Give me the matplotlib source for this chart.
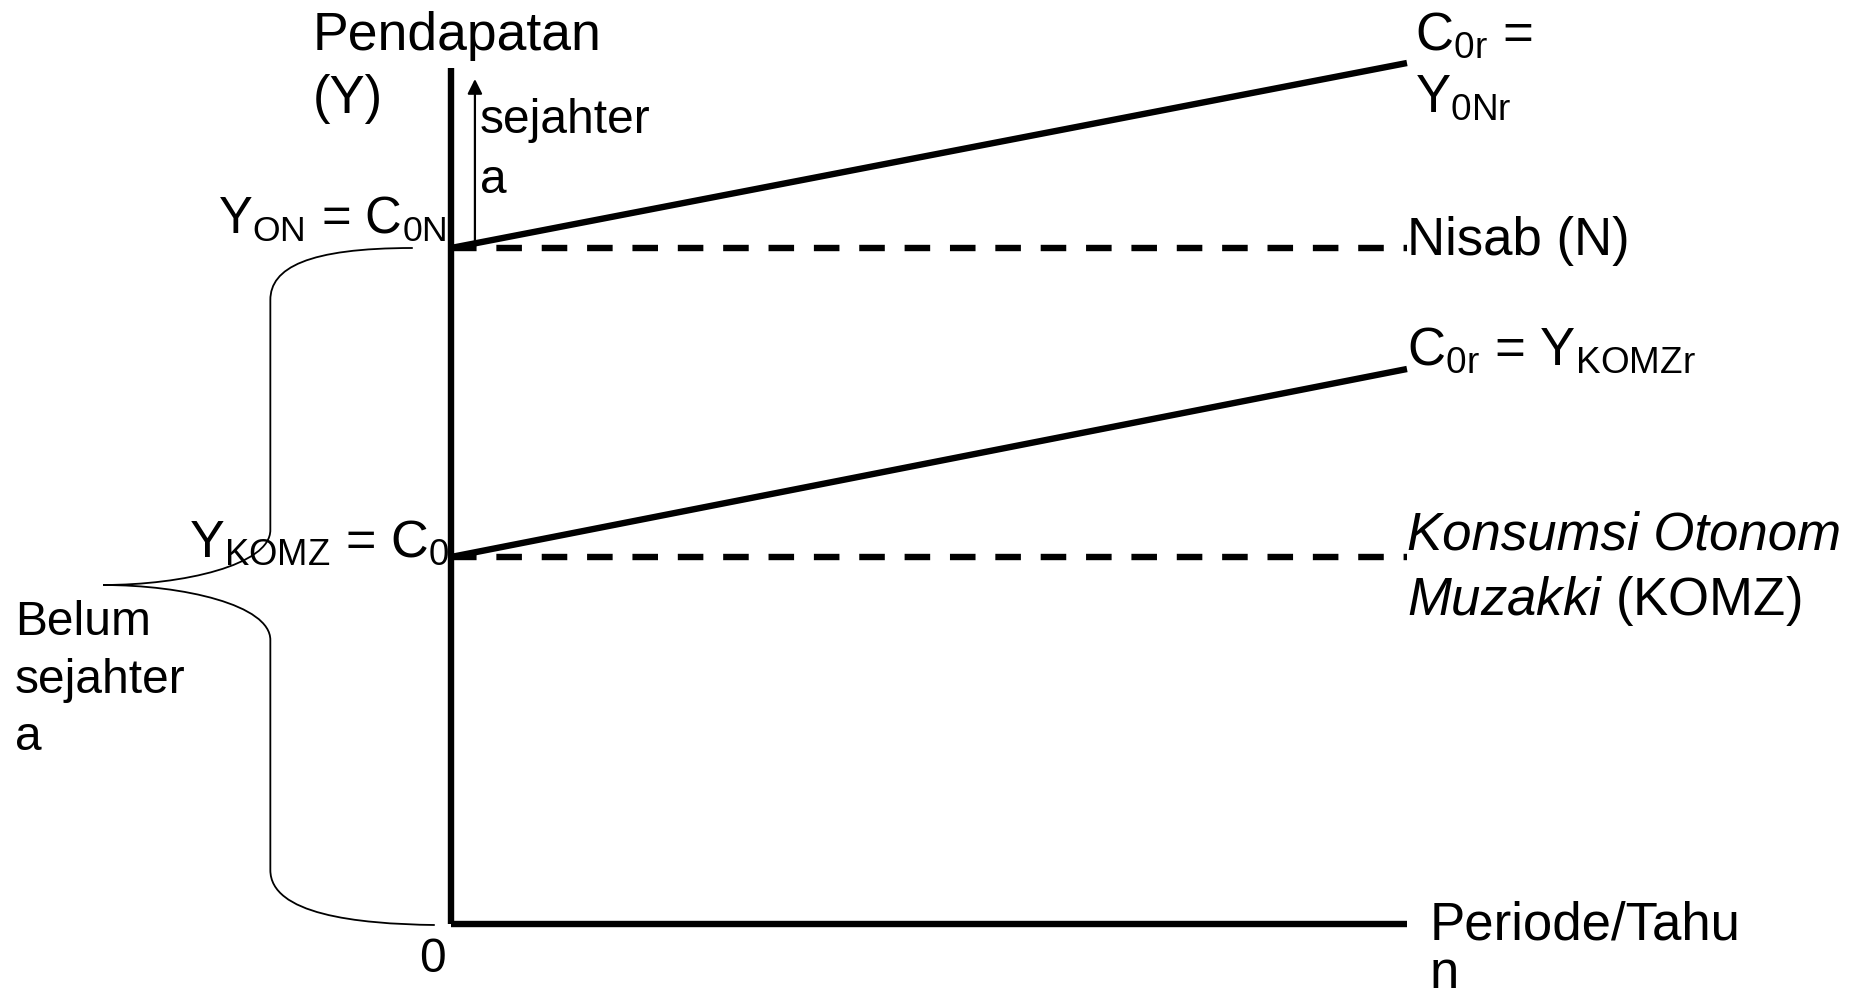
import matplotlib.pyplot as plt
from matplotlib.path import Path
from matplotlib.patches import PathPatch

plt.rcParams['font.family'] = ['Liberation Sans', 'DejaVu Sans']
plt.rcParams['mathtext.fontset'] = 'custom'
plt.rcParams['mathtext.rm'] = 'Liberation Sans'
plt.rcParams['mathtext.it'] = 'Liberation Sans:italic'

# periods on the horizontal axis and income levels on the vertical axis
periods = [0, 10]
nisab = 6.76          # Y_ON = C_0N
komz = 3.67           # Y_KOMZ = C_0
income_nisab = [6.76, 8.61]   # C0r = Y0Nr
income_komz = [3.67, 5.55]    # C0r = YKOMZr
y_top = 8.56

fig = plt.figure(figsize=(18.58, 10), dpi=100)
ax = fig.add_axes([0, 0, 1, 1])
ax.set_xlim(-4.718, 14.718)
ax.set_ylim(-0.76, 9.24)
ax.axis('off')

LW = 4.6
# axes
ax.plot([periods[0], periods[0]], [0, y_top], color='black', lw=LW, solid_capstyle='butt')
ax.plot(periods, [0, 0], color='black', lw=LW, solid_capstyle='butt')

# nisab and autonomous consumption levels
for lvl in (nisab, komz):
    ax.plot(periods, [lvl, lvl], color='black', lw=LW, dashes=(4, 3.1),
            dash_capstyle='butt')

# rising lines
ax.plot(periods, income_nisab, color='black', lw=LW, solid_capstyle='butt')
ax.plot(periods, income_komz, color='black', lw=LW, solid_capstyle='butt')

# arrow above the nisab
ax.annotate('', xy=(0.25, 8.45), xytext=(0.25, nisab),
            arrowprops=dict(arrowstyle='-|>', lw=1.6, color='black',
                            mutation_scale=22, shrinkA=0, shrinkB=0))

# curly brace from 0 up to the nisab
bx, tip_x, tip_y = -1.89, -3.64, 3.39
verts = [(-0.40, nisab), (-1.5, nisab), (bx, nisab - 0.2), (bx, nisab - 0.52),
         (bx, tip_y + 0.55),
         (bx, tip_y + 0.2), (-2.8, tip_y), (tip_x, tip_y),
         (-2.8, tip_y), (bx, tip_y - 0.2), (bx, tip_y - 0.55),
         (bx, 0.54),
         (bx, 0.1), (-1.0, 0.0), (-0.17, -0.01)]
codes = [Path.MOVETO, Path.CURVE4, Path.CURVE4, Path.CURVE4,
         Path.LINETO,
         Path.CURVE4, Path.CURVE4, Path.CURVE4,
         Path.CURVE4, Path.CURVE4, Path.CURVE4,
         Path.LINETO,
         Path.CURVE4, Path.CURVE4, Path.CURVE4]
ax.add_patch(PathPatch(Path(verts, codes), fill=False, lw=1.3, color='black'))

FS_L = 34.5
FS_R = 38

def label(x, y, s, size, **kw):
    ax.text(x, y, s, fontsize=size, ha='left', va='baseline', **kw)

label(-1.45, 8.74, 'Pendapatan', 38.5)
label(-1.45, 8.11, '(Y)', 38)
label(0.30, 7.91, 'sejahter', FS_L)
label(0.30, 7.31, 'a', FS_L)

label(-2.44, 6.91, r'Y$_{\mathrm{ON}}$ = C$_{\mathrm{0N}}$', 36.5)
label(-2.74, komz, r'Y$_{\mathrm{KOMZ}}$ = C$_{\mathrm{0}}$', 37.5)

label(-4.56, 2.89, 'Belum', FS_L)
label(-4.56, 2.31, 'sejahter', FS_L)
label(-4.56, 1.74, 'a', FS_L)

ax.text(-0.19, -0.48, '0', fontsize=FS_L, ha='center', va='baseline')

label(10.08, 8.74, r'C$_{\mathrm{0r}}$ =', FS_R)
label(10.08, 8.12, r'Y$_{\mathrm{0Nr}}$', FS_R)
label(10.0, 6.69, 'Nisab (N)', FS_R)
label(10.0, 5.59, r'C$_{\mathrm{0r}}$ = Y$_{\mathrm{KOMZr}}$', FS_R)
label(10.0, 3.74, 'Konsumsi Otonom', FS_R, style='italic')
label(10.0, 3.09, r'$\mathit{Muzakki}$ (KOMZ)', FS_R)
label(10.24, -0.16, 'Periode/Tahu', FS_R)
label(10.24, -0.64, 'n', FS_R)

fig.savefig('out.png', dpi=100)
